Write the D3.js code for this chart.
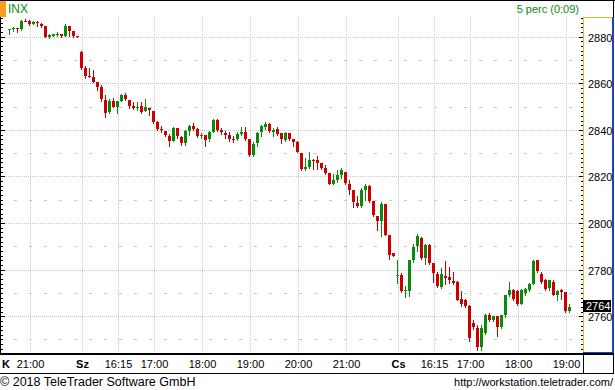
<!DOCTYPE html>
<html>
<head>
<meta charset="utf-8">
<script src="https://cdn.jsdelivr.net/npm/d3@7"></script>
<style>
  body { margin: 0; background: #fff; }
  svg { display: block; font-family: "Liberation Sans", Arial, sans-serif; }
</style>
</head>
<body>
<svg id="chart" width="615" height="390"></svg>
<script>
// 5 minute candles [open, high, low, close], one array per trading day
const dayK = [
  [2883.0, 2883.5, 2881.2, 2883.5], [2883.4, 2884.5, 2882.8, 2883.9],
  [2883.9, 2883.9, 2882.4, 2883.4], [2883.5, 2887.4, 2883.1, 2886.9],
  [2887.1, 2887.8, 2886.8, 2886.8], [2886.9, 2887.4, 2885.4, 2885.7],
  [2885.8, 2886.9, 2885.5, 2886.6], [2886.6, 2886.9, 2884.8, 2886.0],
  [2885.8, 2886.1, 2884.5, 2884.9], [2884.8, 2884.8, 2880.0, 2880.2],
  [2880.2, 2881.5, 2879.8, 2881.1], [2880.6, 2881.5, 2880.4, 2881.2],
  [2880.9, 2882.1, 2880.6, 2881.5], [2881.4, 2881.4, 2880.2, 2880.6],
  [2880.6, 2885.5, 2880.4, 2884.7], [2884.7, 2884.7, 2880.6, 2882.7],
  [2882.7, 2882.7, 2880.2, 2880.6], [2880.5, 2880.5, 2880.2, 2880.2],
];
const dayKFirstBar = 61; // first visible bar of day K (20:35)

const daySz = [
  [2873.8, 2874.2, 2866.5, 2866.9], [2866.8, 2867.7, 2862.6, 2863.4],
  [2863.5, 2866.9, 2863.1, 2863.1], [2862.9, 2865.9, 2860.9, 2860.9],
  [2860.9, 2860.9, 2857.4, 2858.5], [2858.5, 2859.5, 2852.7, 2853.4],
  [2853.1, 2855.1, 2845.9, 2847.6], [2848.1, 2853.3, 2847.5, 2852.7],
  [2852.5, 2853.8, 2850.2, 2850.2], [2850.2, 2852.8, 2847.5, 2852.8],
  [2852.8, 2855.8, 2852.4, 2855.2], [2855.2, 2856.0, 2853.1, 2853.4],
  [2853.1, 2853.1, 2849.8, 2850.5], [2850.5, 2852.1, 2849.2, 2849.5],
  [2849.7, 2852.2, 2848.8, 2850.1], [2850.5, 2852.2, 2847.6, 2848.1],
  [2848.5, 2853.6, 2848.5, 2850.2], [2849.8, 2849.8, 2846.7, 2848.8],
  [2848.4, 2848.4, 2843.1, 2843.5], [2843.7, 2844.1, 2840.2, 2840.7],
  [2840.7, 2841.9, 2839.1, 2840.2], [2839.8, 2839.8, 2837.4, 2838.0],
  [2837.7, 2838.4, 2833.1, 2835.6], [2835.6, 2841.5, 2835.4, 2841.1],
  [2841.1, 2841.1, 2836.9, 2837.4], [2837.1, 2837.7, 2833.8, 2834.4],
  [2834.4, 2840.2, 2833.9, 2839.8], [2839.8, 2842.4, 2837.8, 2841.9],
  [2841.9, 2843.1, 2840.2, 2840.7], [2840.7, 2841.1, 2837.1, 2837.4],
  [2837.4, 2838.8, 2836.7, 2838.1], [2838.0, 2838.2, 2833.4, 2835.9],
  [2836.4, 2839.8, 2835.6, 2839.5], [2839.4, 2844.9, 2839.1, 2844.5],
  [2844.5, 2844.8, 2839.9, 2840.2], [2840.3, 2841.1, 2838.6, 2839.1],
  [2838.9, 2839.7, 2836.9, 2838.1], [2838.1, 2839.2, 2835.6, 2836.4],
  [2836.4, 2837.4, 2835.0, 2835.9], [2836.4, 2839.2, 2835.9, 2838.4],
  [2838.5, 2841.4, 2838.1, 2839.4], [2839.4, 2841.5, 2835.9, 2836.4],
  [2836.4, 2836.4, 2829.1, 2829.5], [2829.5, 2834.8, 2829.1, 2834.2],
  [2834.5, 2839.4, 2833.4, 2838.9], [2839.2, 2842.4, 2837.7, 2841.9],
  [2841.6, 2843.5, 2840.7, 2842.7], [2842.7, 2843.1, 2839.4, 2839.8],
  [2839.5, 2841.2, 2837.4, 2840.2], [2840.7, 2841.5, 2837.8, 2838.5],
  [2838.9, 2838.9, 2834.4, 2836.1], [2835.9, 2839.4, 2835.5, 2838.9],
  [2838.9, 2838.9, 2835.9, 2836.4], [2836.4, 2836.4, 2833.1, 2834.8],
  [2834.8, 2835.6, 2830.7, 2830.9], [2830.2, 2830.2, 2823.1, 2823.5],
  [2823.5, 2828.1, 2823.1, 2824.4], [2824.4, 2830.5, 2824.0, 2827.4],
  [2827.4, 2827.8, 2823.5, 2826.8], [2827.1, 2829.2, 2823.2, 2826.1],
  [2826.1, 2826.1, 2823.2, 2824.0], [2823.8, 2825.1, 2821.4, 2821.8],
  [2821.8, 2821.8, 2816.8, 2817.1], [2817.1, 2821.4, 2816.8, 2818.8],
  [2818.8, 2823.1, 2817.9, 2820.9], [2820.9, 2824.0, 2819.7, 2822.8],
  [2822.2, 2822.2, 2816.8, 2817.2], [2817.1, 2818.8, 2812.8, 2814.2],
  [2814.2, 2814.5, 2806.9, 2809.1], [2808.9, 2811.9, 2806.9, 2807.6],
  [2807.6, 2815.1, 2807.3, 2814.2], [2814.2, 2816.8, 2810.2, 2816.2],
  [2816.2, 2816.5, 2809.4, 2809.5], [2809.5, 2809.5, 2803.4, 2803.5],
  [2803.1, 2803.1, 2797.1, 2800.9], [2800.9, 2809.2, 2794.5, 2808.6],
  [2808.6, 2808.6, 2795.0, 2795.2], [2794.9, 2794.9, 2784.9, 2786.6],
  [2787.4, 2787.4, 2785.9, 2785.9],
];

const dayCs = [
  [2777.3, 2784.5, 2774.5, 2778.1], [2778.1, 2778.8, 2770.5, 2770.9],
  [2770.9, 2773.1, 2768.5, 2771.6], [2770.9, 2784.5, 2769.1, 2784.5],
  [2784.5, 2791.2, 2783.5, 2789.8], [2790.2, 2795.4, 2788.0, 2794.5],
  [2793.9, 2794.2, 2784.8, 2785.2], [2785.2, 2791.0, 2782.8, 2790.8],
  [2790.8, 2791.0, 2782.8, 2783.1], [2783.1, 2783.1, 2774.8, 2778.8],
  [2778.5, 2779.0, 2772.8, 2773.1], [2772.8, 2781.0, 2772.3, 2778.5],
  [2777.3, 2783.8, 2774.2, 2776.6], [2776.9, 2781.4, 2774.5, 2775.9],
  [2775.4, 2779.0, 2774.2, 2774.4], [2775.0, 2775.2, 2767.0, 2767.2],
  [2767.4, 2770.9, 2764.8, 2765.4], [2767.0, 2767.5, 2764.2, 2764.8],
  [2764.8, 2765.2, 2749.5, 2750.9], [2757.5, 2758.5, 2754.8, 2755.5],
  [2755.0, 2756.3, 2745.9, 2747.2], [2747.0, 2756.3, 2745.9, 2755.0],
  [2753.0, 2761.0, 2752.5, 2760.6], [2760.6, 2761.5, 2758.0, 2758.5],
  [2758.5, 2760.5, 2758.0, 2760.2], [2760.2, 2760.5, 2751.9, 2755.5],
  [2755.5, 2760.9, 2755.0, 2760.6], [2760.6, 2769.5, 2760.0, 2769.2],
  [2769.2, 2774.8, 2769.0, 2771.5], [2771.5, 2772.0, 2767.0, 2767.5],
  [2770.9, 2771.5, 2765.0, 2765.6], [2765.6, 2772.0, 2765.3, 2771.5],
  [2770.0, 2772.5, 2769.5, 2771.9], [2771.5, 2774.5, 2771.0, 2774.2],
  [2774.2, 2784.2, 2774.0, 2783.8], [2784.2, 2784.5, 2779.2, 2779.5],
  [2778.3, 2779.0, 2774.3, 2775.0], [2775.9, 2776.2, 2771.5, 2771.9],
  [2772.5, 2775.9, 2771.5, 2775.6], [2775.0, 2775.6, 2769.2, 2769.5],
  [2769.3, 2771.5, 2767.2, 2771.0], [2771.4, 2772.0, 2767.7, 2770.8],
  [2770.5, 2770.6, 2762.0, 2762.3], [2762.3, 2765.6, 2761.9, 2764.2],
];

const dayLabels = ["K", "Sz", "Cs"];
// [day index, local time]
const timeTicks = [
  [0, "21:00"], [1, "16:15"], [1, "17:00"], [1, "18:00"], [1, "19:00"],
  [1, "20:00"], [1, "21:00"], [2, "16:15"], [2, "17:00"], [2, "18:00"],
  [2, "19:00"],
];
const yTicks = [2760, 2780, 2800, 2820, 2840, 2860, 2880];
const yMinorGrid = [2750, 2770, 2790, 2810, 2830, 2850, 2870];

const WIDTH = 615;
const PLOT = { left: 0, right: 583, top: 17, bottom: 353 };
const BARS_PER_DAY = 79; // 15:30 .. 22:00
const RED = "#cc0000";
const GREEN = "#0a8a0a";
const GRID = "#c8c8c8";

const svg = d3.select("#chart");

// bar slot -> x (4px per 5 minutes)
const x = d3.scaleLinear().domain([79, 80]).range([81.5, 85.5]);
const y = d3.scaleLinear().domain([2760, 2880]).range([316.7, 37.2]);
const crisp = (v) => Math.round(v - 0.5) + 0.5;

function timeSlot(day, t) {
  const [h, m] = t.split(":").map(Number);
  return day * BARS_PER_DAY + (h * 60 + m - 930) / 5;
}

// flatten all days into one bar list
const bars = [];
dayK.forEach((d, i) => bars.push({ slot: dayKFirstBar + i, o: d[0], h: d[1], l: d[2], c: d[3] }));
daySz.forEach((d, i) => bars.push({ slot: BARS_PER_DAY + i, o: d[0], h: d[1], l: d[2], c: d[3] }));
dayCs.forEach((d, i) => bars.push({ slot: 2 * BARS_PER_DAY + i, o: d[0], h: d[1], l: d[2], c: d[3] }));

svg.append("rect").attr("width", WIDTH).attr("height", 390).attr("fill", "#fff");

// header
svg.append("line").attr("x1", 0).attr("x2", WIDTH).attr("y1", 0.5).attr("y2", 0.5).attr("stroke", "#000");
svg.append("line").attr("x1", 613.5).attr("x2", 613.5).attr("y1", 0).attr("y2", PLOT.top).attr("stroke", "#000");
svg.append("rect").attr("x", 0).attr("y", 1).attr("width", 6).attr("height", 16).attr("fill", "#f9a01b");
svg.append("text").attr("x", 8).attr("y", 13).attr("font-size", 12).attr("fill", GREEN).text("INX");
svg.append("text").attr("x", 579).attr("y", 13).attr("text-anchor", "end")
  .attr("font-size", 11).attr("fill", GREEN).text("5 perc (0:09)");

const grid = svg.append("g");

// horizontal grid
grid.selectAll(".hmajor").data(yTicks).join("line")
  .attr("x1", PLOT.left).attr("x2", PLOT.right)
  .attr("y1", (d) => crisp(y(d))).attr("y2", (d) => crisp(y(d)))
  .attr("stroke", GRID).attr("stroke-dasharray", "1,1");

grid.selectAll(".hminor").data(yMinorGrid).join("line")
  .attr("x1", 14).attr("x2", PLOT.right)
  .attr("y1", (d) => crisp(y(d))).attr("y2", (d) => crisp(y(d)))
  .attr("stroke", GRID).attr("stroke-dasharray", "3,12");

// vertical grid at day starts and time ticks
const xTicks = timeTicks.map(([day, t]) => ({ pos: x(timeSlot(day, t)) + 1, label: t, bold: false }))
  .concat(dayLabels.map((lab, day) => ({ pos: x(day * BARS_PER_DAY) + 1, label: lab, bold: true })));

grid.selectAll(".vline").data(xTicks.filter((d) => d.pos > 0)).join("line")
  .attr("x1", (d) => d.pos).attr("x2", (d) => d.pos)
  .attr("y1", PLOT.top).attr("y2", PLOT.bottom)
  .attr("stroke", GRID).attr("stroke-dasharray", "1,1");

// candles
svg.append("clipPath").attr("id", "plotClip").append("rect")
  .attr("x", PLOT.left).attr("y", PLOT.top)
  .attr("width", PLOT.right - PLOT.left).attr("height", PLOT.bottom - PLOT.top);

const candles = svg.append("g").attr("clip-path", "url(#plotClip)")
  .selectAll("g").data(bars).join("g");

candles.append("line")
  .attr("x1", (d) => x(d.slot)).attr("x2", (d) => x(d.slot))
  .attr("y1", (d) => Math.round(y(d.h))).attr("y2", (d) => Math.round(y(d.l)) + 1)
  .attr("stroke", (d) => (d.c >= d.o ? GREEN : RED));

candles.append("rect")
  .attr("x", (d) => x(d.slot) - 1.5)
  .attr("y", (d) => Math.round(y(Math.max(d.o, d.c))))
  .attr("width", 3)
  .attr("height", (d) => Math.max(1, Math.round(y(Math.min(d.o, d.c))) - Math.round(y(Math.max(d.o, d.c)))))
  .attr("fill", (d) => (d.c >= d.o ? GREEN : RED));

// left edge ticks, every 2 points
const smallTicks = d3.range(2746, 2890, 2);
svg.append("line").attr("x1", 0.5).attr("x2", 0.5).attr("y1", PLOT.top).attr("y2", PLOT.bottom).attr("stroke", "#000");
svg.selectAll(".ltick").data(smallTicks).join("line")
  .attr("x1", 0).attr("x2", (d) => (d % 20 === 0 ? 5 : 3))
  .attr("y1", (d) => crisp(y(d))).attr("y2", (d) => crisp(y(d)))
  .attr("stroke", "#000");

// right axis panel
svg.append("line").attr("x1", PLOT.right + 0.5).attr("x2", PLOT.right + 0.5)
  .attr("y1", PLOT.top).attr("y2", PLOT.bottom).attr("stroke", "#e8b830");
svg.append("line").attr("x1", PLOT.right).attr("x2", 613)
  .attr("y1", PLOT.top + 0.5).attr("y2", PLOT.top + 0.5).attr("stroke", "#e8b830");
svg.append("line").attr("x1", 613).attr("x2", 613)
  .attr("y1", PLOT.top).attr("y2", PLOT.bottom).attr("stroke", "#2243b8").attr("stroke-width", 2);
svg.append("line").attr("x1", PLOT.right).attr("x2", 614)
  .attr("y1", PLOT.bottom - 0.5).attr("y2", PLOT.bottom - 0.5).attr("stroke", "#2243b8");

svg.selectAll(".rtick").data(smallTicks).join("line")
  .attr("x1", (d) => PLOT.right - (d % 20 === 0 ? 4 : 2)).attr("x2", PLOT.right)
  .attr("y1", (d) => crisp(y(d))).attr("y2", (d) => crisp(y(d)))
  .attr("stroke", "#000");

svg.selectAll(".ylabel").data(yTicks).join("text")
  .attr("x", 588).attr("y", (d) => y(d) + 4.5)
  .attr("font-size", 11).attr("fill", "#000").text((d) => d);

// last price marker
const last = bars[bars.length - 1].c;
const lastY = y(last);
svg.append("rect").attr("x", PLOT.right).attr("y", Math.round(lastY) - 7)
  .attr("width", 28).attr("height", 12).attr("fill", "#000");
svg.append("text").attr("x", 586).attr("y", Math.round(lastY) + 3)
  .attr("font-size", 11).attr("fill", "#fff").text(Math.round(last));

// time axis strip
svg.append("line").attr("x1", 0).attr("x2", 614).attr("y1", 354).attr("y2", 354)
  .attr("stroke", "#000").attr("stroke-width", 2);
svg.append("line").attr("x1", 0).attr("x2", 614).attr("y1", 373.5).attr("y2", 373.5).attr("stroke", "#000");
svg.append("line").attr("x1", PLOT.right + 0.5).attr("x2", PLOT.right + 0.5).attr("y1", 354).attr("y2", 373.5).attr("stroke", "#000");
svg.append("line").attr("x1", 613.5).attr("x2", 613.5).attr("y1", 354).attr("y2", 373.5).attr("stroke", "#000");

svg.selectAll(".xlabel").data(xTicks).join("text")
  .attr("x", (d) => (d.pos < 0 ? 2 : d.pos))
  .attr("y", 368)
  .attr("text-anchor", (d) => (d.pos < 0 ? "start" : "middle"))
  .attr("font-size", 11)
  .attr("font-weight", (d) => (d.bold ? "bold" : "normal"))
  .attr("fill", "#000")
  .text((d) => d.label);

// footer
svg.append("text").attr("x", 0).attr("y", 386).attr("font-size", 12.5).attr("fill", "#000")
  .text("© 2018 TeleTrader Software GmbH");
svg.append("text").attr("x", 613).attr("y", 386).attr("text-anchor", "end")
  .attr("font-size", 11).attr("fill", "#000").text("http://workstation.teletrader.com/");
</script>
</body>
</html>
